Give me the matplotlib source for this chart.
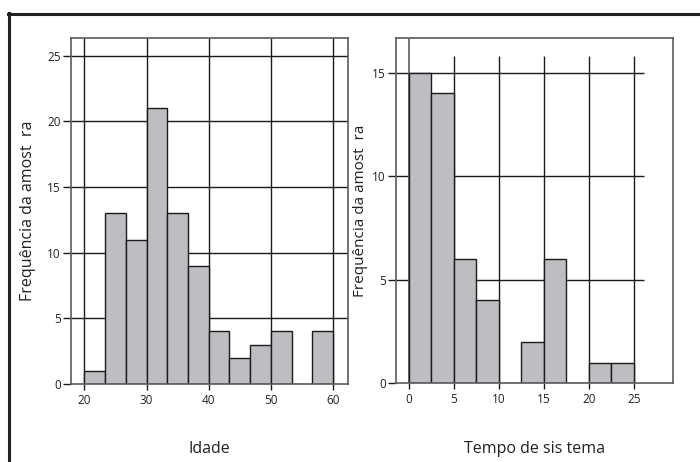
import numpy as np
import matplotlib.pyplot as plt
from matplotlib.lines import Line2D

plt.rcParams['font.family'] = ['Open Sans', 'DejaVu Sans']

# Idade: 12 classes de 20 a 60
idade_bins = np.linspace(20, 60, 13)
idade_freq = [1, 13, 11, 21, 13, 9, 4, 2, 3, 4, 0, 4]
idade_ticks = [20, 30, 40, 50, 60]
idade_yticks = [0, 5, 10, 15, 20, 25]

# Tempo de sistema: 10 classes de 0 a 25
tempo_bins = np.linspace(0, 25, 11)
tempo_freq = [15, 14, 6, 4, 0, 2, 6, 0, 1, 1]
tempo_ticks = [0, 5, 10, 15, 20, 25]
tempo_yticks = [0, 5, 10, 15]

ylabel = 'Frequência da amost  ra'
bar_color = '#bdbec2'
grid_color = '#1a1a1a'
spine_color = '#5a5a5a'

fig = plt.figure(figsize=(7, 4.62), dpi=100)

# moldura externa (apenas topo e esquerda)
fig.add_artist(Line2D([8 / 700, 1], [1 - 13.5 / 462, 1 - 13.5 / 462],
                      transform=fig.transFigure, color='#222222', lw=2.2))
fig.add_artist(Line2D([9 / 700, 9 / 700], [0, 1 - 12.5 / 462],
                      transform=fig.transFigure, color='#222222', lw=2.2))


def style_axes(ax):
    for sp in ax.spines.values():
        sp.set_color(spine_color)
        sp.set_linewidth(1.2)
    ax.tick_params(axis='y', length=6, width=1, pad=1, labelsize=8.5,
                   color=grid_color, labelcolor='#222222')
    ax.tick_params(axis='x', length=4, width=1, pad=3, labelsize=8.5,
                   color=grid_color, labelcolor='#222222')


# painel esquerdo - Idade
ax1 = fig.add_axes([70.7 / 700, 1 - 384 / 462, (348 - 70.7) / 700, (384 - 38) / 462])
ax1.set_xlim(17.8, 62.4)
ax1.set_ylim(0, 26.35)
ax1.hlines(idade_yticks[1:], 17.8, 62.4, color=grid_color, lw=1, zorder=1)
ax1.vlines(idade_ticks, 0, 26.35, color=grid_color, lw=1, zorder=1)
ax1.bar(idade_bins[:-1], idade_freq, width=np.diff(idade_bins), align='edge',
        color=bar_color, edgecolor=grid_color, linewidth=1, zorder=2)
ax1.set_xticks(idade_ticks)
ax1.set_yticks(idade_yticks)
style_axes(ax1)
ax1.set_ylabel(ylabel, fontsize=11.5, color='#222222')
ax1.yaxis.set_label_coords(-0.124, 0.5)

# painel direito - Tempo de sistema
ax2 = fig.add_axes([395.7 / 700, 1 - 383.3 / 462, (672.7 - 395.7) / 700, (383.3 - 38.3) / 462])
ax2.set_xlim(-1.44, 29.3)
ax2.set_ylim(0, 16.66)
ax2.hlines(tempo_yticks[1:], -1.44, 26.1, color=grid_color, lw=1, zorder=1)
ax2.vlines(tempo_ticks[1:], 0, 15.8, color=grid_color, lw=1, zorder=1)
ax2.vlines(tempo_ticks[0], 0, 16.66, color=spine_color, lw=1.2, zorder=1)
ax2.bar(tempo_bins[:-1], tempo_freq, width=np.diff(tempo_bins), align='edge',
        color=bar_color, edgecolor=grid_color, linewidth=1, zorder=2)
ax2.set_xticks(tempo_ticks)
ax2.set_yticks(tempo_yticks)
style_axes(ax2)
ax2.set_ylabel(ylabel, fontsize=11, color='#222222')
ax2.yaxis.set_label_coords(-0.1, 0.5)

fig.text(209 / 700, 13 / 462, 'Idade', ha='center', va='center', fontsize=11.5, color='#222222')
fig.text(534 / 700, 13 / 462, 'Tempo de sis tema', ha='center', va='center', fontsize=11.5, color='#222222')

fig.savefig('out.png', dpi=100, facecolor='white')
